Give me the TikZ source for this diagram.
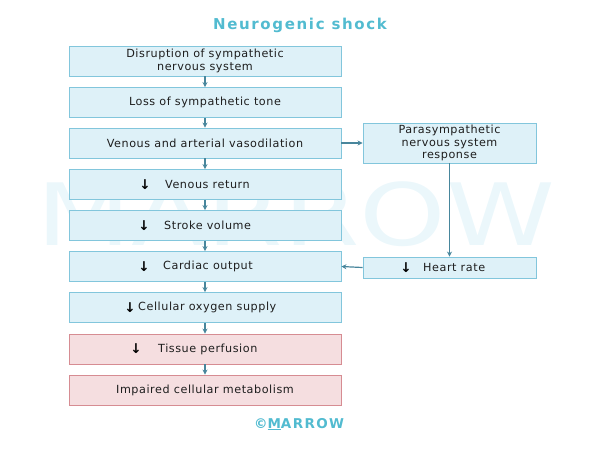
\documentclass[tikz,border=0pt]{standalone}
\usepackage{fontspec}
\setmainfont{DejaVu Sans}
\newfontfamily\bodyfont[LetterSpace=5]{DejaVu Sans}
\newfontfamily\titlefont[LetterSpace=11]{DejaVu Sans}
\newfontfamily\copyfont[LetterSpace=10]{DejaVu Sans}
\usetikzlibrary{arrows.meta}
\definecolor{boxfill}{RGB}{222,241,248}
\definecolor{boxline}{RGB}{130,198,220}
\definecolor{pinkfill}{RGB}{245,222,224}
\definecolor{pinkline}{RGB}{214,140,146}
\definecolor{arrowc}{RGB}{72,134,156}
\definecolor{titlec}{RGB}{82,187,208}
\definecolor{wmark}{RGB}{235,247,251}
\definecolor{textc}{RGB}{30,30,30}
\begin{document}
\begin{tikzpicture}[x=1pt,y=-1pt,
  bluebox/.style={draw=boxline,fill=boxfill,line width=0.9pt,minimum width=272pt,minimum height=30pt,inner sep=0pt,align=center,text=textc,font=\bodyfont\fontsize{11.2}{12.5}\selectfont},
  pinkbox/.style={bluebox,draw=pinkline,fill=pinkfill},
  sidebox/.style={bluebox,minimum width=173pt},
  lbl/.style={inner sep=0pt,text=textc,font=\bodyfont\fontsize{11.2}{12.5}\selectfont},
  dn/.style={inner sep=0pt,font=\fontsize{13.5}{13.5}\selectfont\bfseries},
  conn/.style={draw=arrowc,line width=1.2pt,-{Stealth[length=5pt,width=5pt]}}]
\useasboundingbox (0,0) rectangle (600,451);
% watermark (behind)
\node[text=wmark,font=\fontsize{86}{86}\selectfont,xscale=1.28,inner sep=0pt] (wm) at (296,214) {MARROW};
\node[font=\titlefont\bfseries\fontsize{15}{16}\selectfont,text=titlec] (title) at (300,25) {Neurogenic shock};
\node[bluebox] (b1) at (205,61) {Disruption of sympathetic\\nervous system};
\node[bluebox] (b2) at (205,102.5) {Loss of sympathetic tone};
\node[bluebox] (b3) at (205,143) {Venous and arterial vasodilation};
\node[bluebox] (b4) at (205,184.5) {};
\node[bluebox] (b5) at (205,225.5) {};
\node[bluebox] (b6) at (205,266.5) {};
\node[bluebox] (b7) at (205,307.5) {};
\node[pinkbox] (b8) at (205,349) {};
\node[pinkbox] (b9) at (205,390) {Impaired cellular metabolism};
\node[sidebox,minimum height=40pt] (p) at (449.5,143) {Parasympathetic\\nervous system\\response};
\node[sidebox,minimum height=21pt] (h) at (449.5,267.5) {};
% labels with arrows
\node[dn] (a4) at (145,184.5) {↓};
\node[lbl,anchor=west] (t4) at (165,184.5) {Venous return};
\node[dn] (a5) at (144,225.5) {↓};
\node[lbl,anchor=west] (t5) at (164,225.5) {Stroke volume};
\node[dn] (a6) at (144,266.5) {↓};
\node[lbl,anchor=west] (t6) at (163,266.5) {Cardiac output};
\node[dn] (a7) at (130,307.5) {↓};
\node[lbl,anchor=west] (t7) at (138,307.5) {Cellular oxygen supply};
\node[dn] (a8) at (136,349) {↓};
\node[lbl,anchor=west] (t8) at (158,349) {Tissue perfusion};
\node[dn] (ah) at (406,267.5) {↓};
\node[lbl,anchor=west] (th) at (423,267.5) {Heart rate};
% connectors
\foreach \a/\b in {b1/b2,b2/b3,b3/b4,b4/b5,b5/b6,b6/b7,b7/b8,b8/b9}
  \draw[conn] (\a.south) -- (\b.north);
\draw[conn] (b3.east) -- (p.west);
\draw[conn] (p.south) -- (h.north);
\draw[conn] (h.west) -- (b6.east);
% copyright
\node[text=titlec,font=\copyfont\bfseries\fontsize{13.5}{15}\selectfont] (copy) at (299,424) {©\underline{M}ARROW};
\end{tikzpicture}
\end{document}
